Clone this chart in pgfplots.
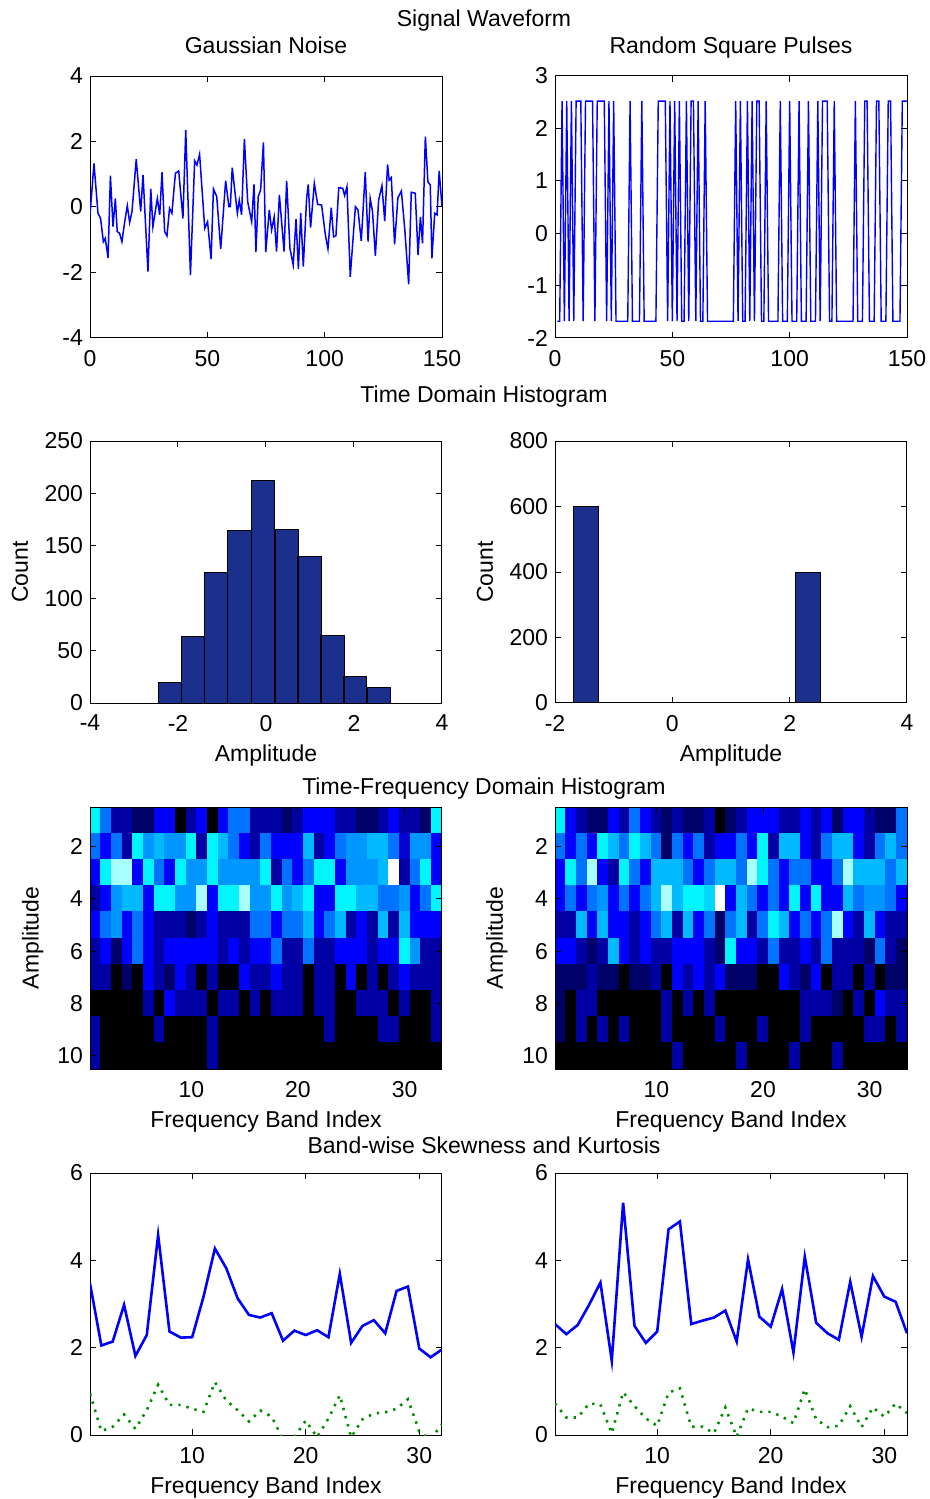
\documentclass[border=0pt]{standalone}
\usepackage{fontspec}
\setmainfont{Liberation Sans}
\usepackage{pgfplots}
\pgfplotsset{compat=1.18}
\definecolor{barblue}{RGB}{26,48,140}
\definecolor{lgreen}{RGB}{0,140,0}
\pgfplotsset{
  every axis/.append style={
    scale only axis, width=176pt, height=131pt,
    font=\fontsize{11.5}{13}\selectfont,
    /pgf/number format/assume math mode=true,
    tick align=inside, major tick length=3pt,
    axis line style={black, line width=0.5pt},
    every tick/.style={black, line width=0.5pt},
    xticklabel style={yshift=-2.5pt},
    anchor=north west,
  },
  hmap/.style={
    xmin=0.5, xmax=33.5, ymin=0.5, ymax=10.5, y dir=reverse,
    xtick={10,20,30}, ytick={2,4,6,8,10}, axis on top,
    colormap={hm}{rgb255=(0,0,0) rgb255=(0,0,105) rgb255=(0,0,165) rgb255=(0,0,255) rgb255=(0,115,255) rgb255=(0,185,255) rgb255=(0,245,255) rgb255=(170,255,255) rgb255=(255,255,255)},
    point meta min=0, point meta max=8,
    xlabel={Frequency Band Index}, ylabel={Amplitude},
    xlabel style={at={(axis description cs:0.5,-0.2)}, anchor=center},
    ylabel style={at={(axis description cs:-0.163,0.5)}, anchor=center},
  },
  bw/.style={
    xmin=1, xmax=32, ymin=0, ymax=6, xtick={10,20,30}, ytick={0,2,4,6},
    xlabel={Frequency Band Index},
    xlabel style={at={(axis description cs:0.5,-0.2)}, anchor=center},
  },
  hist/.style={
    xlabel={Amplitude}, ylabel={Count},
    xlabel style={at={(axis description cs:0.5,-0.2)}, anchor=center},
    ylabel style={at={(axis description cs:-0.199,0.5)}, anchor=center},
  },
}
\begin{document}
\begin{tikzpicture}
\useasboundingbox (0,0) rectangle (465pt,-749.5pt);
\tikzset{every node/.style={font=\fontsize{11.5}{13}\selectfont}}
\node[anchor=base] at (242pt,-13pt) {Signal Waveform};
\node[anchor=base] at (133pt,-27pt) {Gaussian Noise};
\node[anchor=base] at (365.5pt,-27pt) {Random Square Pulses};
\node[anchor=base] at (242pt,-201pt) {Time Domain Histogram};
\node[anchor=base] at (242pt,-397pt) {Time-Frequency Domain Histogram};
\node[anchor=base] at (242pt,-576.5pt) {Band-wise Skewness and Kurtosis};

% ---------- Row 1 ----------
\begin{axis}[at={(45pt,-38pt)}, xmin=0, xmax=150, ymin=-4, ymax=4,
  xtick={0,50,100,150}, ytick={-4,-2,0,2,4}]
\addplot[blue, line width=0.75pt] coordinates {
(0,-0.24) (1.7,1.33) (3.4,-0.19) (4.5,-0.35) (5.7,-1.06) (6.5,-0.96) (7.7,-1.55) (8.7,0.96) (9.8,-0.60) (10.8,0.26) (11.6,-0.75) (12.6,-0.80) (13.6,-1.06) (14.8,-0.45) (15.9,0.04) (16.9,-0.47) (17.9,-0.14) (19.7,1.46) (21.6,-0.14) (22.6,0.98) (24.7,-1.97) (25.9,0.55) (26.8,-0.60) (28.7,0.26) (29.7,-0.24) (30.7,1.06) (31.8,-0.75) (32.8,-0.88) (33.9,-0.04) (34.9,-0.19) (36.4,1.03) (37.8,1.10) (39.6,-0.35) (40.8,2.35) (42.8,-2.08) (44.6,1.41) (45.6,1.28) (46.7,1.61) (48.9,-0.65) (50.1,-0.45) (51.6,-1.59) (52.6,0.55) (54.0,0.32) (55.7,-1.28) (57.8,0.80) (59.2,0.01) (59.8,0.01) (60.6,1.20) (62.8,-0.19) (63.6,0.21) (64.6,-0.24) (65.8,2.08) (67.2,0.16) (68.9,-0.45) (69.9,0.69) (70.7,-1.38) (71.7,0.32) (72.7,0.52) (73.9,1.97) (74.9,-1.38) (76.4,-0.09) (77.4,-0.70) (78.5,-0.30) (79.5,-1.36) (80.7,0.37) (82.7,-1.36) (83.8,0.80) (85.2,-1.26) (86.6,-1.77) (87.8,-0.37) (88.8,-1.89) (89.8,-0.19) (90.9,-1.82) (92.3,0.26) (93.0,0.69) (94.0,-0.63) (95.6,0.72) (97.0,0.08) (98.7,0.06) (100.3,-0.85) (101.4,-1.28) (102.8,-0.02) (103.8,-0.91) (104.8,-0.88) (106,0.59) (107.7,0.57) (108.5,0.35) (109.5,0.62) (110.9,-2.13) (113.1,0.01) (114.2,-0.09) (115.6,-1.04) (117.3,1.06) (118.5,-1.06) (119.4,0.26) (120.4,-0.14) (121.6,-1.49) (123,0.21) (124.4,0.65) (125.6,-0.43) (126.8,1.30) (127.5,0.82) (128.4,0.90) (129.8,-1.14) (131.2,0.28) (132.7,0.49) (134.1,-0.65) (135.8,-2.36) (136.9,0.45) (138.6,0.42) (139.8,-1.47) (140.8,-0.30) (141.7,-1.11) (142.9,2.15) (144,0.77) (145,0.67) (145.7,-1.57) (146.9,-0.19) (147.9,-0.24) (148.8,1.10) (150,0.01)
};
\end{axis}

\begin{axis}[at={(277.5pt,-38pt)}, xmin=0, xmax=150, ymin=-2, ymax=3,
  xtick={0,50,100,150}, ytick={-2,-1,0,1,2,3}]
\addplot[blue, line width=0.7pt] table[row sep=\\] {
x y\\
1 -1.68\\2 -1.68\\3 2.52\\4 -1.68\\5 2.52\\6 -1.68\\7 2.52\\8 -1.68\\9 2.52\\10 2.52\\
11 2.52\\12 -1.68\\13 2.52\\14 2.52\\15 2.52\\16 2.52\\17 -1.68\\18 2.52\\19 2.52\\20 2.52\\
21 2.52\\22 -1.68\\23 2.52\\24 -1.68\\25 2.52\\26 -1.68\\27 -1.68\\28 -1.68\\29 -1.68\\30 -1.68\\
31 -1.68\\32 2.52\\33 -1.68\\34 -1.68\\35 -1.68\\36 -1.68\\37 2.52\\38 -1.68\\39 -1.68\\40 -1.68\\
41 -1.68\\42 -1.68\\43 -1.68\\44 2.52\\45 2.52\\46 2.52\\47 2.52\\48 -1.68\\49 2.52\\50 -1.68\\
51 2.52\\52 -1.68\\53 2.52\\54 -1.68\\55 -1.68\\56 2.52\\57 -1.68\\58 2.52\\59 2.52\\60 -1.68\\
61 2.52\\62 -1.68\\63 -1.68\\64 2.52\\65 -1.68\\66 -1.68\\67 -1.68\\68 -1.68\\69 -1.68\\70 -1.68\\
71 -1.68\\72 -1.68\\73 -1.68\\74 -1.68\\75 -1.68\\76 -1.68\\77 2.52\\78 -1.68\\79 2.52\\80 -1.68\\
81 -1.68\\82 2.52\\83 -1.68\\84 2.52\\85 -1.68\\86 2.52\\87 2.52\\88 -1.68\\89 -1.68\\90 2.52\\
91 -1.68\\92 -1.68\\93 -1.68\\94 -1.68\\95 -1.68\\96 2.52\\97 -1.68\\98 -1.68\\99 -1.68\\100 2.52\\
101 -1.68\\102 -1.68\\103 -1.68\\104 2.52\\105 -1.68\\106 -1.68\\107 -1.68\\108 2.52\\109 -1.68\\110 -1.68\\
111 -1.68\\112 2.52\\113 -1.68\\114 2.52\\115 2.52\\116 2.52\\117 -1.68\\118 -1.68\\119 2.52\\120 -1.68\\
121 -1.68\\122 -1.68\\123 -1.68\\124 -1.68\\125 -1.68\\126 -1.68\\127 -1.68\\128 2.52\\129 -1.68\\130 -1.68\\
131 -1.68\\132 2.52\\133 2.52\\134 -1.68\\135 -1.68\\136 -1.68\\137 2.52\\138 2.52\\139 -1.68\\140 -1.68\\
141 -1.68\\142 2.52\\143 2.52\\144 -1.68\\145 -1.68\\146 -1.68\\147 -1.68\\148 2.52\\149 2.52\\150 2.52\\
};
\end{axis}

% ---------- Row 2 ----------
\begin{axis}[hist, at={(45pt,-220.5pt)}, xmin=-4, xmax=4, ymin=0, ymax=250,
  xtick={-4,-2,0,2,4}, ytick={0,50,100,150,200,250}]
\addplot[ybar, bar width=0.527, fill=barblue, draw=black, line width=0.5pt] coordinates {
(-2.19,20) (-1.66,63) (-1.13,125) (-0.60,165) (-0.07,212) (0.47,166) (0.99,140) (1.51,64) (2.03,25) (2.56,15)
};
\end{axis}

\begin{axis}[hist, at={(277.5pt,-220.5pt)}, xmin=-2, xmax=4, ymin=0, ymax=800,
  xtick={-2,0,2,4}, ytick={0,200,400,600,800}]
\addplot[ybar, bar width=0.42, fill=barblue, draw=black, line width=0.5pt] coordinates {
(-1.47,600) (2.31,400)
};
\end{axis}

% ---------- Row 3 ----------
\begin{axis}[hmap, at={(45pt,-403.5pt)}]
\addplot[matrix plot*, mesh/cols=33, point meta=explicit] table[row sep=\\, meta=c] {
x y c\\
1 1 6\\2 1 4\\3 1 2\\4 1 2\\5 1 1\\6 1 1\\7 1 3\\8 1 3\\9 1 0\\10 1 2\\11 1 3\\12 1 0\\13 1 3\\14 1 4\\15 1 4\\16 1 2\\17 1 2\\18 1 2\\19 1 1\\20 1 2\\21 1 3\\22 1 3\\23 1 3\\24 1 2\\25 1 2\\26 1 1\\27 1 1\\28 1 2\\29 1 3\\30 1 2\\31 1 2\\32 1 1\\33 1 6\\
1 2 4\\2 2 3\\3 2 4\\4 2 2\\5 2 6\\6 2 4.5\\7 2 5\\8 2 4.5\\9 2 4.5\\10 2 6\\11 2 2\\12 2 6\\13 2 5\\14 2 4\\15 2 3\\16 2 2\\17 2 4\\18 2 3\\19 2 3\\20 2 3\\21 2 5\\22 2 2\\23 2 3\\24 2 4\\25 2 4.5\\26 2 4.5\\27 2 5\\28 2 5\\29 2 4\\30 2 2.5\\31 2 4.5\\32 2 4.5\\33 2 3\\
1 3 3\\2 3 6\\3 3 7\\4 3 7\\5 3 3\\6 3 6\\7 3 4\\8 3 3\\9 3 6\\10 3 4.5\\11 3 4.5\\12 3 6\\13 3 4.5\\14 3 4.5\\15 3 4.5\\16 3 4.5\\17 3 6\\18 3 2\\19 3 4\\20 3 3\\21 3 4\\22 3 6\\23 3 6\\24 3 3\\25 3 4.5\\26 3 4.5\\27 3 4.5\\28 3 5\\29 3 8\\30 3 2\\31 3 4\\32 3 6\\33 3 3\\
1 4 2\\2 4 3\\3 4 4.5\\4 4 5\\5 4 5\\6 4 3\\7 4 6\\8 4 6\\9 4 4.5\\10 4 4.5\\11 4 7\\12 4 3\\13 4 6\\14 4 6\\15 4 7\\16 4 4.5\\17 4 4.5\\18 4 6\\19 4 4.5\\20 4 5\\21 4 6\\22 4 3\\23 4 3\\24 4 6\\25 4 6\\26 4 5\\27 4 5\\28 4 4\\29 4 4\\30 4 4.5\\31 4 3\\32 4 4\\33 4 6\\
1 5 3\\2 5 4\\3 5 4.5\\4 5 3\\5 5 4\\6 5 3\\7 5 2\\8 5 2\\9 5 2\\10 5 1\\11 5 2\\12 5 3\\13 5 2\\14 5 2\\15 5 2\\16 5 4\\17 5 4\\18 5 3\\19 5 4\\20 5 4\\21 5 5\\22 5 3\\23 5 4\\24 5 5\\25 5 2\\26 5 3\\27 5 2\\28 5 5\\29 5 2\\30 5 5\\31 5 3\\32 5 3\\33 5 3\\
1 6 2\\2 6 3\\3 6 1\\4 6 3\\5 6 4\\6 6 3\\7 6 2\\8 6 3\\9 6 3\\10 6 3\\11 6 3\\12 6 3\\13 6 2\\14 6 3\\15 6 2\\16 6 3\\17 6 3\\18 6 4\\19 6 2\\20 6 2\\21 6 4\\22 6 2\\23 6 2\\24 6 3\\25 6 3\\26 6 3\\27 6 2\\28 6 3\\29 6 3\\30 6 6\\31 6 4.5\\32 6 2\\33 6 2\\
1 7 2\\2 7 2\\3 7 0\\4 7 1\\5 7 0\\6 7 3\\7 7 2\\8 7 1\\9 7 3\\10 7 2\\11 7 0\\12 7 2\\13 7 0\\14 7 0\\15 7 3\\16 7 2\\17 7 2\\18 7 3\\19 7 2\\20 7 2\\21 7 0\\22 7 2\\23 7 2\\24 7 0\\25 7 3\\26 7 0\\27 7 2\\28 7 0\\29 7 2\\30 7 3\\31 7 2\\32 7 2\\33 7 2\\
1 8 0\\2 8 0\\3 8 0\\4 8 0\\5 8 0\\6 8 2\\7 8 0\\8 8 3\\9 8 2\\10 8 2\\11 8 2\\12 8 0\\13 8 2\\14 8 2\\15 8 0\\16 8 2\\17 8 0\\18 8 2\\19 8 2\\20 8 2\\21 8 0\\22 8 2\\23 8 2\\24 8 0\\25 8 0\\26 8 2\\27 8 2\\28 8 2\\29 8 0\\30 8 2\\31 8 0\\32 8 0\\33 8 2\\
1 9 2\\2 9 0\\3 9 0\\4 9 0\\5 9 0\\6 9 0\\7 9 2\\8 9 0\\9 9 0\\10 9 0\\11 9 0\\12 9 2\\13 9 0\\14 9 0\\15 9 0\\16 9 0\\17 9 0\\18 9 0\\19 9 0\\20 9 0\\21 9 0\\22 9 0\\23 9 2\\24 9 0\\25 9 0\\26 9 0\\27 9 0\\28 9 2\\29 9 2\\30 9 0\\31 9 0\\32 9 0\\33 9 2\\
1 10 2\\2 10 0\\3 10 0\\4 10 0\\5 10 0\\6 10 0\\7 10 0\\8 10 0\\9 10 0\\10 10 0\\11 10 0\\12 10 2\\13 10 0\\14 10 0\\15 10 0\\16 10 0\\17 10 0\\18 10 0\\19 10 0\\20 10 0\\21 10 0\\22 10 0\\23 10 0\\24 10 0\\25 10 0\\26 10 0\\27 10 0\\28 10 0\\29 10 0\\30 10 0\\31 10 0\\32 10 0\\33 10 0\\
};
\end{axis}

\begin{axis}[hmap, at={(277.5pt,-403.5pt)}, ylabel style={at={(axis description cs:-0.165,0.5)}}]
\addplot[matrix plot*, mesh/cols=33, point meta=explicit] table[row sep=\\, meta=c] {
x y c\\
1 1 6\\2 1 3\\3 1 2\\4 1 1\\5 1 1\\6 1 3\\7 1 2\\8 1 4\\9 1 3\\10 1 2\\11 1 1\\12 1 2\\13 1 1\\14 1 1\\15 1 2\\16 1 0\\17 1 1\\18 1 2\\19 1 3\\20 1 3\\21 1 3\\22 1 2\\23 1 2\\24 1 3\\25 1 2\\26 1 3\\27 1 1\\28 1 3\\29 1 3\\30 1 2\\31 1 1\\32 1 1\\33 1 4\\
1 2 4\\2 2 3\\3 2 4\\4 2 3\\5 2 6\\6 2 5\\7 2 4\\8 2 6\\9 2 5\\10 2 4\\11 2 1\\12 2 4\\13 2 3\\14 2 4\\15 2 2\\16 2 3\\17 2 3\\18 2 4\\19 2 3\\20 2 6\\21 2 2\\22 2 5\\23 2 5\\24 2 3\\25 2 2\\26 2 4\\27 2 5\\28 2 5\\29 2 3\\30 2 2\\31 2 4\\32 2 5\\33 2 4\\
1 3 3\\2 3 6\\3 3 4\\4 3 7\\5 3 3\\6 3 2\\7 3 6\\8 3 4\\9 3 3\\10 3 5\\11 3 5\\12 3 5\\13 3 4\\14 3 3\\15 3 4\\16 3 5\\17 3 5\\18 3 4\\19 3 7\\20 3 6\\21 3 4\\22 3 3\\23 3 4\\24 3 4\\25 3 3\\26 3 3\\27 3 4\\28 3 7\\29 3 5\\30 3 5\\31 3 5\\32 3 4\\33 3 5\\
1 4 3\\2 4 4\\3 4 3\\4 4 4\\5 4 4.5\\6 4 3\\7 4 4\\8 4 3\\9 4 4\\10 4 5\\11 4 7\\12 4 5\\13 4 6\\14 4 6\\15 4 5.5\\16 4 8\\17 4 3\\18 4 5\\19 4 4\\20 4 3\\21 4 4\\22 4 3\\23 4 6\\24 4 3\\25 4 6\\26 4 3\\27 4 3\\28 4 5\\29 4 4\\30 4 4.5\\31 4 4.5\\32 4 4\\33 4 3\\
1 5 2\\2 5 2\\3 5 5\\4 5 3\\5 5 5\\6 5 3\\7 5 3\\8 5 2\\9 5 3\\10 5 4\\11 5 5\\12 5 2\\13 5 5\\14 5 3\\15 5 4\\16 5 1\\17 5 4\\18 5 5\\19 5 2\\20 5 4\\21 5 6\\22 5 5\\23 5 3\\24 5 4\\25 5 3\\26 5 4\\27 5 7\\28 5 3\\29 5 2\\30 5 5\\31 5 3\\32 5 2\\33 5 2\\
1 6 3\\2 6 3\\3 6 2\\4 6 1\\5 6 2\\6 6 5\\7 6 3\\8 6 2\\9 6 3\\10 6 2\\11 6 2\\12 6 3\\13 6 3\\14 6 3\\15 6 2\\16 6 1\\17 6 6\\18 6 3\\19 6 3\\20 6 2\\21 6 4\\22 6 2\\23 6 2\\24 6 3\\25 6 2\\26 6 4\\27 6 2\\28 6 2\\29 6 2\\30 6 1\\31 6 4\\32 6 2\\33 6 1\\
1 7 1\\2 7 1\\3 7 1\\4 7 2\\5 7 1\\6 7 1\\7 7 0\\8 7 1\\9 7 1\\10 7 2\\11 7 0\\12 7 3\\13 7 2\\14 7 3\\15 7 2\\16 7 3\\17 7 1\\18 7 1\\19 7 1\\20 7 0\\21 7 0\\22 7 3\\23 7 2\\24 7 1\\25 7 3\\26 7 0\\27 7 2\\28 7 2\\29 7 0\\30 7 2\\31 7 0\\32 7 1\\33 7 1\\
1 8 1\\2 8 0\\3 8 2\\4 8 2\\5 8 0\\6 8 0\\7 8 0\\8 8 0\\9 8 0\\10 8 0\\11 8 2\\12 8 0\\13 8 2\\14 8 0\\15 8 2\\16 8 0\\17 8 0\\18 8 0\\19 8 0\\20 8 0\\21 8 0\\22 8 0\\23 8 0\\24 8 2\\25 8 2\\26 8 2\\27 8 1\\28 8 0\\29 8 2\\30 8 0\\31 8 3\\32 8 2\\33 8 2\\
1 9 1\\2 9 0\\3 9 2\\4 9 0\\5 9 2\\6 9 0\\7 9 2\\8 9 0\\9 9 0\\10 9 0\\11 9 2\\12 9 0\\13 9 0\\14 9 0\\15 9 0\\16 9 2\\17 9 0\\18 9 0\\19 9 0\\20 9 2\\21 9 0\\22 9 0\\23 9 0\\24 9 2\\25 9 0\\26 9 0\\27 9 0\\28 9 0\\29 9 0\\30 9 2\\31 9 2\\32 9 0\\33 9 2\\
1 10 0\\2 10 0\\3 10 0\\4 10 0\\5 10 0\\6 10 0\\7 10 0\\8 10 0\\9 10 0\\10 10 0\\11 10 0\\12 10 2\\13 10 0\\14 10 0\\15 10 0\\16 10 0\\17 10 0\\18 10 2\\19 10 0\\20 10 0\\21 10 0\\22 10 0\\23 10 2\\24 10 0\\25 10 0\\26 10 0\\27 10 2\\28 10 0\\29 10 0\\30 10 0\\31 10 0\\32 10 0\\33 10 0\\
};
\end{axis}

% ---------- Row 4 ----------
\begin{axis}[bw, at={(45pt,-586.5pt)}]
\addplot[blue, line width=1.3pt] coordinates {
(1,3.47) (2,2.05) (3,2.14) (4,2.98) (5,1.81) (6,2.29) (7,4.58) (8,2.37) (9,2.23) (10,2.24) (11,3.17) (12,4.27) (13,3.82) (14,3.13) (15,2.75) (16,2.69) (17,2.79) (18,2.16) (19,2.39) (20,2.29) (21,2.40) (22,2.24) (23,3.69) (24,2.11) (25,2.50) (26,2.63) (27,2.33) (28,3.30) (29,3.40) (30,1.98) (31,1.78) (32,1.96)
};
\addplot[lgreen, line width=1.3pt, dash pattern=on 1.2pt off 3pt] coordinates {
(1,0.95) (2,0.09) (3,0.19) (4,0.47) (5,0.14) (6,0.57) (7,1.15) (8,0.69) (9,0.69) (10,0.60) (11,0.53) (12,1.21) (13,0.79) (14,0.57) (15,0.31) (16,0.56) (17,0.42) (18,-0.10) (19,-0.05) (20,0.33) (21,-0.05) (22,0.38) (23,0.91) (24,-0.05) (25,0.36) (26,0.49) (27,0.52) (28,0.60) (29,0.82) (30,0.08) (31,-0.10) (32,0.25)
};
\end{axis}

\begin{axis}[bw, at={(277.5pt,-586.5pt)}]
\addplot[blue, line width=1.3pt] coordinates {
(1,2.54) (2,2.31) (3,2.52) (4,2.98) (5,3.49) (6,1.70) (7,5.32) (8,2.50) (9,2.11) (10,2.37) (11,4.71) (12,4.89) (13,2.54) (14,2.62) (15,2.69) (16,2.85) (17,2.14) (18,4.02) (19,2.71) (20,2.48) (21,3.34) (22,1.89) (23,4.08) (24,2.57) (25,2.33) (26,2.18) (27,3.51) (28,2.25) (29,3.64) (30,3.17) (31,3.05) (32,2.33)
};
\addplot[lgreen, line width=1.3pt, dash pattern=on 1.2pt off 3pt] coordinates {
(1,0.72) (2,0.40) (3,0.40) (4,0.72) (5,0.70) (6,0.04) (7,0.98) (8,0.66) (9,0.38) (10,0.21) (11,0.97) (12,1.07) (13,0.19) (14,0.19) (15,0.04) (16,0.63) (17,-0.04) (18,0.61) (19,0.53) (20,0.53) (21,0.42) (22,0.27) (23,1.05) (24,0.36) (25,0.18) (26,0.21) (27,0.66) (28,0.18) (29,0.63) (30,0.42) (31,0.72) (32,0.50)
};
\end{axis}
\end{tikzpicture}
\end{document}
